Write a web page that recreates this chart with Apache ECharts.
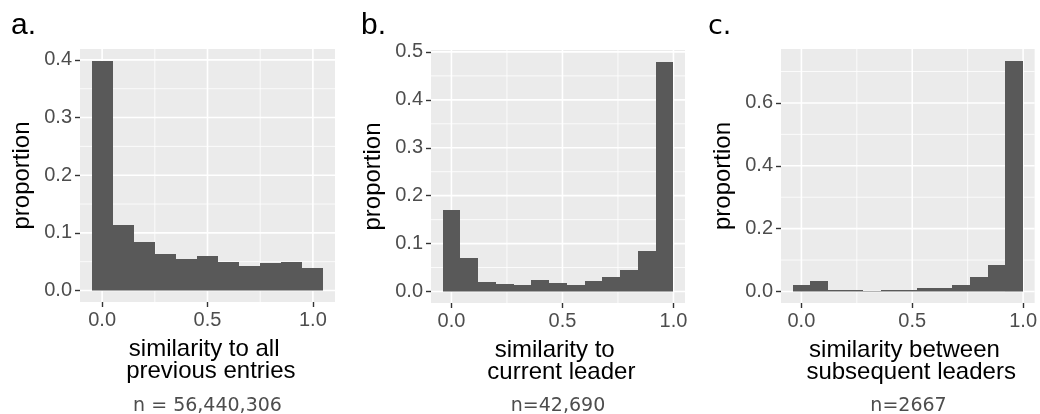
<!DOCTYPE html>
<html>
<head>
<meta charset="utf-8">
<title>similarity histograms</title>
<script src="https://cdn.jsdelivr.net/npm/echarts@6/dist/echarts.min.js"></script>
<style>
    html, body { margin: 0; padding: 0; background: #ffffff; }
    #main { width: 1040px; height: 414px; }
</style>
</head>
<body>
<div id="main"></div>
<script>
// bin centres (histogram a has 0.1 wide bins, b and c have 0.08 wide bins)
var binsA = [0.0, 0.1, 0.2, 0.3, 0.4, 0.5, 0.6, 0.7, 0.8, 0.9, 1.0];
var binsBC = [0.0, 0.08, 0.16, 0.24, 0.32, 0.40, 0.48, 0.56, 0.64, 0.72, 0.80, 0.88, 0.96];

// proportion in each bin
var propA = [0.399, 0.114, 0.084, 0.064, 0.055, 0.060, 0.050, 0.043, 0.048, 0.050, 0.039];
var propB = [0.170, 0.070, 0.020, 0.016, 0.014, 0.024, 0.018, 0.014, 0.022, 0.030, 0.045, 0.085, 0.480];
var propC = [0.019, 0.032, 0.006, 0.006, 0.003, 0.006, 0.006, 0.010, 0.010, 0.022, 0.045, 0.083, 0.735];

// tick labels
var xTicks = [0.0, 0.5, 1.0];
var yTicksA = [0.0, 0.1, 0.2, 0.3, 0.4];
var yTicksB = [0.0, 0.1, 0.2, 0.3, 0.4, 0.5];
var yTicksC = [0.0, 0.2, 0.4, 0.6];

var panelTags = ['a.', 'b.', 'c.'];
var xTitles = ['similarity to all \n previous entries', 'similarity to \n current leader', 'similarity between \n subsequent leaders'];
var nNotes = ['n = 56,440,306', 'n=42,690', 'n=2667'];

var histogram = function () {

    var chart = echarts.init(document.getElementById('main'), null, {renderer: 'canvas'});

    var SANS = '"Liberation Sans", Arial, sans-serif';
    var BAR = '#595959';
    var PANEL = '#EBEBEB';
    var TICK = '#333333';

    // ggplot style 5% expansion of the data range
    function expand(lo, hi) {
        var pad = (hi - lo) * 0.05;
        return [lo - pad, hi + pad];
    }

    // bars snapped to whole pixels so neighbours don't leave seams
    function barRender(width) {
        return function (params, api) {
            var c = api.value(0);
            var v = api.value(1);
            var p0 = api.coord([c - width / 2, v]);
            var p1 = api.coord([c + width / 2, 0]);
            var x0 = Math.round(p0[0]), x1 = Math.round(p1[0]);
            var y0 = Math.round(p0[1]), y1 = p1[1];
            return {
                type: 'rect',
                shape: {x: x0, y: y0, width: x1 - x0, height: y1 - y0},
                style: {fill: BAR}
            };
        };
    }

    // white major + minor grid lines, like theme_grey
    function gridRender(xMajor, yMajor) {
        return function (params, api) {
            var cs = params.coordSys;
            var kids = [];
            var xs = xMajor[1] - xMajor[0];
            var ys = yMajor[1] - yMajor[0];
            function vline(v, w) {
                var px = api.coord([v, 0])[0];
                if (px < cs.x || px > cs.x + cs.width) return;
                kids.push({type: 'line', shape: {x1: px, y1: cs.y, x2: px, y2: cs.y + cs.height},
                    style: {stroke: '#ffffff', lineWidth: w}});
            }
            function hline(v, w) {
                var py = api.coord([0, v])[1];
                if (py < cs.y || py > cs.y + cs.height) return;
                kids.push({type: 'line', shape: {x1: cs.x, y1: py, x2: cs.x + cs.width, y2: py},
                    style: {stroke: '#ffffff', lineWidth: w}});
            }
            var i;
            for (i = -1; i < xMajor.length; i++) vline(xMajor[0] + (i + 0.5) * xs, 0.8);
            for (i = -1; i < yMajor.length; i++) hline(yMajor[0] + (i + 0.5) * ys, 0.8);
            for (i = 0; i < xMajor.length; i++) vline(xMajor[i], 1.6);
            for (i = 0; i < yMajor.length; i++) hline(yMajor[i], 1.6);
            return {type: 'group', children: kids};
        };
    }

    function toPairs(bins, vals) {
        var out = [];
        for (var i = 0; i < bins.length; i++) out.push([bins[i], vals[i]]);
        return out;
    }

    var panels = [
        {grid: {left: 80, top: 49, width: 255, height: 253}, bins: binsA, vals: propA, bw: 0.1, yTicks: yTicksA},
        {grid: {left: 431, top: 50, width: 254, height: 253}, bins: binsBC, vals: propB, bw: 0.08, yTicks: yTicksB},
        {grid: {left: 781, top: 49, width: 255, height: 254}, bins: binsBC, vals: propC, bw: 0.08, yTicks: yTicksC}
    ];

    function Chart() {
        var grids = [], xAxes = [], yAxes = [], series = [], graphics = [];

        panels.forEach(function (p, k) {
            var xr = expand(p.bins[0] - p.bw / 2, p.bins[p.bins.length - 1] + p.bw / 2);
            var yr = expand(0, Math.max.apply(null, p.vals));

            grids.push({
                left: p.grid.left, top: p.grid.top, width: p.grid.width, height: p.grid.height,
                show: true, backgroundColor: PANEL, borderWidth: 0
            });

            xAxes.push({
                gridIndex: k,
                type: 'value',
                min: xr[0],
                max: xr[1],
                axisLine: {show: true, onZero: false, lineStyle: {color: 'rgba(0,0,0,0)'}},
                splitLine: {show: false},
                axisTick: {show: true, customValues: xTicks, length: 5, lineStyle: {color: TICK, width: 1.4}},
                axisLabel: {
                    customValues: xTicks, margin: 8, fontSize: 20, color: '#4D4D4D', fontFamily: SANS,
                    formatter: function (v) { return v.toFixed(1); }
                },
                name: xTitles[k],
                nameLocation: 'middle',
                nameGap: 36,
                nameTextStyle: {fontSize: 24, color: '#000000', fontFamily: SANS, lineHeight: 22, verticalAlign: 'top'}
            });

            yAxes.push({
                gridIndex: k,
                type: 'value',
                min: yr[0],
                max: yr[1],
                axisLine: {show: true, onZero: false, lineStyle: {color: 'rgba(0,0,0,0)'}},
                splitLine: {show: false},
                axisTick: {show: true, customValues: p.yTicks, length: 5, lineStyle: {color: TICK, width: 1.4}},
                axisLabel: {
                    customValues: p.yTicks, margin: 8, fontSize: 20, color: '#4D4D4D', fontFamily: SANS,
                    formatter: function (v) { return v.toFixed(1); }
                },
                name: 'proportion',
                nameLocation: 'middle',
                nameRotate: 90,
                nameGap: 46,
                nameTextStyle: {fontSize: 24, color: '#000000', fontFamily: SANS}
            });

            series.push({
                type: 'custom',
                name: 'grid' + k,
                xAxisIndex: k,
                yAxisIndex: k,
                z: 1,
                silent: true,
                data: [[0, 0]],
                renderItem: gridRender(xTicks, p.yTicks)
            });

            series.push({
                type: 'custom',
                name: 'hist' + k,
                xAxisIndex: k,
                yAxisIndex: k,
                z: 2,
                encode: {x: 0, y: 1},
                data: toPairs(p.bins, p.vals),
                renderItem: barRender(p.bw)
            });

            graphics.push({
                type: 'text',
                x: p.grid.left + p.grid.width / 2,
                y: 406,
                style: {
                    text: nNotes[k], align: 'center', verticalAlign: 'middle',
                    fontSize: 19, fontFamily: '"DejaVu Sans", sans-serif', fill: '#4D4D4D'
                }
            });
        });

        graphics.push({type: 'text', x: 11, y: 26,
            style: {text: panelTags[0], verticalAlign: 'middle', fontSize: 30, fontFamily: SANS, fill: '#000'}});
        graphics.push({type: 'text', x: 361, y: 26,
            style: {text: panelTags[1], verticalAlign: 'middle', fontSize: 30, fontFamily: SANS, fill: '#000'}});
        graphics.push({type: 'text', x: 708, y: 27,
            style: {text: panelTags[2], verticalAlign: 'middle', fontSize: 27, fontFamily: '"DejaVu Sans", sans-serif', fill: '#000'}});

        var option = {
            backgroundColor: '#ffffff',
            animation: false,
            grid: grids,
            xAxis: xAxes,
            yAxis: yAxes,
            series: series,
            graphic: graphics
        };
        chart.setOption(option);
    }

    return {
        init: function () {
            Chart();
        }
    };
}();

histogram.init();
</script>
</body>
</html>
